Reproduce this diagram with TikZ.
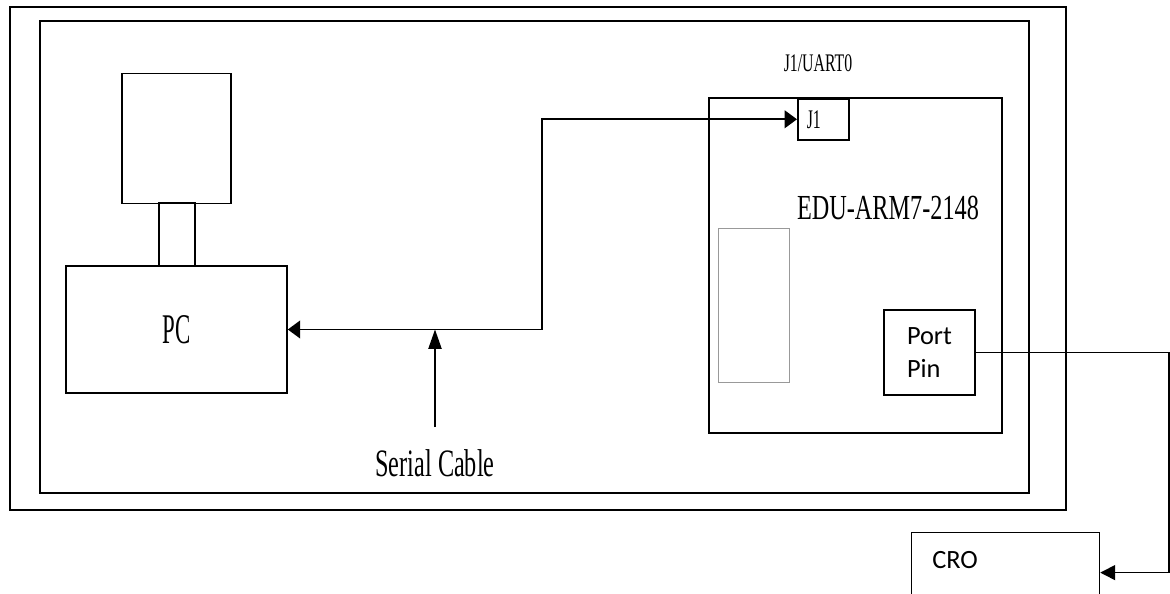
\documentclass[tikz,border=0pt]{standalone}
\usepackage{fontspec}
\setmainfont{Liberation Serif}
\newfontfamily\calibri{Carlito}
\usetikzlibrary{arrows.meta,positioning,calc}
\newcommand{\stretched}[2][1.7]{\scalebox{1}[#1]{#2}}

\begin{document}
\begin{tikzpicture}[x=0.02cm,y=-0.02cm]

    \tikzset{
      frame/.style={draw, line width=1.1pt},
      box/.style 2 args={
        draw,
        line width=0.9pt,
        inner sep=0pt,
        minimum width=#1*0.02cm,
        minimum height=#2*0.02cm,
      },
      serif/.style={font=\fontsize{#1}{#1}\selectfont, inner sep=1pt},
      sans/.style={font=\calibri\fontsize{15}{19}\selectfont, align=left, inner sep=0pt},
      cabletip/.tip={Triangle[length=7pt,width=10pt]},
    }
    \useasboundingbox (0,0) rectangle (1170,594);
    \clip (0,0) rectangle (1170,594);

	% frames
	\draw[frame] (10,7) rectangle (1066,510);
	\draw[frame] (40,21) rectangle (1029,493);

	% computer
	\node[box={109}{130}] (monitor) at (176.5,138.5) {};
	\node[box={36}{63}] (neck) at (177,234.5) {};
	\node[box={221}{127}, serif=13] (pc) at (176.5,329.5) {\stretched[1.85]{PC}};

	% board
	\node[box={293}{335}, line width=1.6pt] (board) at (855.5,265.5) {};
	\node[box={51}{41}, anchor=north west, serif=9, align=left,
	      inner xsep=0.18cm, text width=0.66cm] (j1) at (797,98) {\stretched{J1}};
	\node[serif=9] (uart) at (818,63) {\stretched[1.6]{J1/UART0}};
	\node[serif=13.8] (title) at (888,208) {\stretched[1.45]{EDU-ARM7-2148}};
	\node[draw=gray!80, line width=0.5pt, inner sep=0pt,
	      minimum width=1.42cm, minimum height=3.08cm] (slot) at (753.5,305) {};
	\node[box={91}{85}, line width=0.7pt, sans] (port) at (929.5,352.5) {Port\\Pin};

	% oscilloscope
	\node[box={188}{80}, line width=0.7pt, anchor=north west] (cro) at (911,532) {};
	\node[sans, anchor=west] (crolabel) at ($(cro.north west)+(21,28)$) {CRO};

	% serial cable
	\coordinate (bend) at (542,0);
	\draw[line width=1.1pt, cabletip-cabletip]
	  (pc.east) -- (pc.east -| bend) |- (j1.west);
	\node[serif=13.8] (serial) at (435,463) {\stretched[1.6]{Serial Cable}};
	\draw[line width=0.8pt, -{Triangle[length=11pt,width=7.5pt]}, shorten <=0.4cm]
	  (serial.north) -- (serial.north |- pc.east);

	% port pin to CRO
	\coordinate (drop) at (1169,0);
	\draw[line width=0.9pt, -{Triangle[length=8.5pt,width=8.5pt]}]
	  (port.east) -- (port.east -| drop) |- (cro.east);

\end{tikzpicture}
\end{document}
